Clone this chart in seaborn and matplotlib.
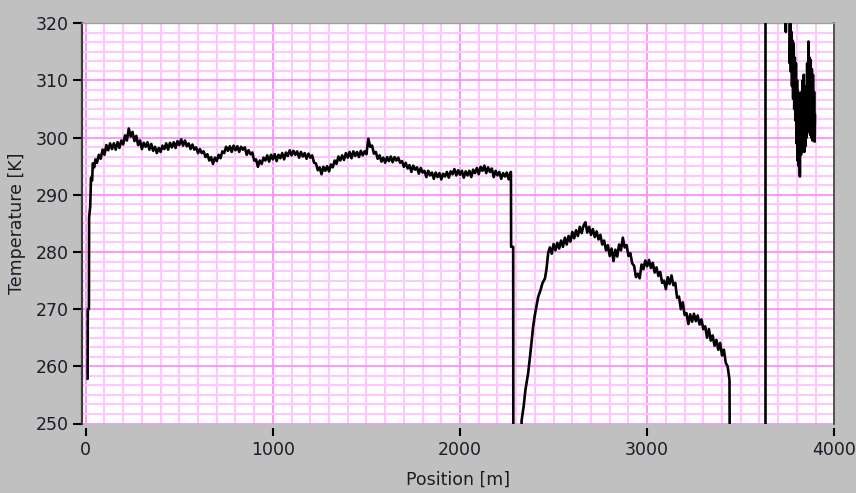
import matplotlib
matplotlib.use("Agg")
import matplotlib.pyplot as plt
from matplotlib.ticker import MultipleLocator
import pandas as pd
import seaborn as sns

# ---------------- data ----------------
seg1_pos = [10, 11, 17, 18, 24, 28, 34, 38, 45, 52] + list(range(60, 2271, 10)) + [2272, 2273, 2284, 2285]
seg1_temp = [257.8, 270.0, 270.0, 286.0, 288.0, 293.0, 292.5, 295.5, 294.8, 296.2,
             295.6, 297.0, 296.3, 297.9, 297.0, 298.7, 297.8, 299.0, 298.0, 299.0,
             297.9, 299.2, 298.2, 299.5, 298.8, 300.4, 299.5, 301.6, 300.2, 301.0,
             299.4, 300.3, 298.7, 299.5, 298.0, 299.1, 298.4, 299.2, 297.9, 298.9,
             297.7, 298.4, 297.3, 298.2, 297.5, 298.6, 298.0, 299.0, 297.9, 299.1,
             298.3, 299.2, 298.2, 299.4, 298.7, 299.7, 298.6, 299.5, 298.5, 299.0,
             298.0, 298.8, 297.9, 298.3, 297.3, 298.0, 297.3, 297.6, 296.6, 297.1,
             296.0, 296.6, 295.4, 296.5, 295.9, 297.0, 296.4, 297.6, 297.3, 298.4,
             297.7, 298.5, 297.5, 298.6, 297.8, 298.5, 297.5, 298.4, 297.9, 298.3,
             297.0, 297.8, 297.1, 297.4, 296.0, 296.2, 294.9, 296.0, 295.4, 296.5,
             296.0, 296.9, 295.8, 297.0, 296.2, 297.1, 295.9, 297.0, 296.4, 297.3,
             296.2, 297.4, 296.8, 297.8, 296.9, 297.7, 297.0, 297.6, 296.5, 297.5,
             296.7, 297.3, 296.3, 297.2, 296.5, 296.9, 295.6, 295.5, 294.3, 294.8,
             293.6, 294.9, 294.2, 295.0, 294.1, 295.3, 294.8, 296.0, 295.4, 296.7,
             296.0, 296.9, 296.1, 297.3, 296.5, 297.5, 296.4, 297.6, 296.8, 297.5,
             296.6, 297.7, 296.9, 297.6, 297.1, 299.8, 298.4, 298.6, 297.2, 297.5,
             296.3, 296.9, 295.8, 296.5, 295.6, 296.6, 295.9, 296.7, 295.7, 296.6,
             296.0, 296.5, 295.6, 295.9, 294.9, 295.6, 294.6, 295.2, 294.0, 295.1,
             294.4, 294.8, 293.7, 294.7, 293.9, 294.2, 293.1, 294.2, 293.4, 293.9,
             292.8, 293.9, 293.1, 293.8, 292.7, 293.7, 293.2, 294.0, 293.0, 294.1,
             293.6, 294.5, 293.4, 294.3, 293.5, 294.2, 293.0, 294.1, 293.4, 294.2,
             293.1, 294.4, 293.8, 294.7, 293.6, 294.9, 294.2, 295.1, 293.8, 294.8,
             294.0, 294.6, 293.1, 294.2, 293.4, 294.0, 292.8, 293.8, 293.2, 293.9,
             292.7, 293.9,
             294.0, 280.9, 280.9, 240.0]

seg2_pos = [2328, 2329, 2340, 2350, 2364, 2375, 2391, 2400, 2418, 2430, 2440, 2454, 2462, 2471] \
    + list(range(2480, 3441, 10)) + [3442]
seg2_temp = [240.0, 250.5, 253.0, 256.0, 258.8, 262.0, 267.0, 269.0, 272.2, 273.3, 274.5, 275.4, 277.0, 279.8,
             280.8, 279.7, 281.4, 280.3, 281.6, 280.6, 282.0, 280.9, 282.5, 281.3,
             282.8, 281.8, 283.5, 282.4, 283.8, 282.8, 284.4, 283.3, 284.6, 285.2,
             283.4, 284.4, 283.0, 284.0, 282.6, 283.6, 282.2, 283.0, 281.3, 282.0,
             280.3, 281.2, 279.3, 280.6, 278.4, 280.4, 279.2, 281.3, 280.3, 282.5,
             280.8, 281.2, 279.3, 279.8, 278.0, 277.6, 275.6, 276.2, 275.4, 277.8,
             277.0, 278.5, 277.5, 278.6, 277.2, 278.1, 276.4, 277.3, 275.8, 276.5,
             274.6, 275.0, 273.5, 275.6, 274.4, 275.9, 274.2, 274.6, 272.0, 272.2,
             270.0, 271.2, 269.0, 269.3, 267.4, 269.1, 267.8, 269.2, 267.9, 268.9,
             267.3, 268.2, 266.5, 267.0, 265.0, 266.5, 264.5, 265.4, 263.6, 264.6,
             262.9, 264.1, 261.9, 262.9, 260.6, 260.0, 257.6,
             240.0]

seg3_pos = [3628, 3628]
seg3_temp = [240.0, 330.0]

seg4_pos = [3740, 3741, 3742, 3760, 3762, 3765, 3768, 3771, 3774, 3777, 3780, 3783, 3786, 3789,
            3792, 3795, 3798, 3801, 3804, 3807, 3810, 3813, 3816, 3819, 3822, 3825, 3828, 3831,
            3834, 3837, 3840, 3843, 3846, 3849, 3852, 3855, 3858, 3862, 3865, 3868, 3871, 3874,
            3877, 3880, 3883, 3886, 3889, 3892, 3895, 3897]
seg4_temp = [325, 318.5, 325, 325, 313, 320, 311.5, 318.5, 309, 317, 306.8, 316.5, 305, 314,
             303, 313, 299, 310, 296, 308, 295, 307, 293.2, 306, 297, 308, 297.5, 310,
             298, 311, 297.5, 309, 298.5, 308, 300, 313, 301, 316.8, 304.8, 314, 300.5, 313.6,
             300, 312, 299.5, 311, 300, 308, 299.3, 304]

x_ticks = [0, 1000, 2000, 3000, 4000]
y_ticks = [250, 260, 270, 280, 290, 300, 310, 320]

frames = []
for i, (p, t) in enumerate([(seg1_pos, seg1_temp), (seg2_pos, seg2_temp),
                            (seg3_pos, seg3_temp), (seg4_pos, seg4_temp)]):
    frames.append(pd.DataFrame({"Position": p, "Temperature": t, "seg": i}))
df = pd.concat(frames, ignore_index=True)

# ---------------- figure ----------------
sns.set_style("ticks")
plt.rcParams["font.family"] = ["DejaVu Sans"]
text_col = "#1c1c28"

fig = plt.figure(figsize=(8.56, 4.93), dpi=100, facecolor="#c0c0c0")
left_px, right_px, top_px, bot_px = 82.0, 834.3, 23.3, 423.5
ax = fig.add_axes([left_px / 856, 1 - bot_px / 493, (right_px - left_px) / 856, (bot_px - top_px) / 493])
ax.set_facecolor("white")

sns.lineplot(data=df, x="Position", y="Temperature", units="seg", estimator=None,
             sort=False, color="black", lw=1.9, ax=ax, zorder=3)

ax.set_xlim(-20, 4000)
ax.set_ylim(250, 320)
ax.set_xticks(x_ticks)
ax.set_yticks(y_ticks)
ax.xaxis.set_minor_locator(MultipleLocator(100))
ax.yaxis.set_minor_locator(MultipleLocator(10 / 6))

ax.set_axisbelow(True)
ax.grid(which="minor", color="#ffc6ff", lw=1.5)
ax.grid(which="major", color="#ff8cff", lw=1.3)

ax.spines["left"].set_color("#3a3a3a")
ax.spines["left"].set_linewidth(1.6)
ax.spines["right"].set_color("#404040")
ax.spines["right"].set_linewidth(1.2)
ax.spines["top"].set_color("#a0a0a0")
ax.spines["top"].set_linewidth(1.0)
ax.spines["bottom"].set_visible(False)
ax.spines["bottom"].set_position(("outward", 3))

ax.tick_params(axis="y", which="major", left=True, direction="out", length=6.5,
               width=1.5, color="black", labelsize=12.5, labelcolor=text_col, pad=3.2)
ax.tick_params(axis="x", which="major", bottom=True, direction="out", length=5.8,
               width=1.5, color="black", labelsize=12.5, labelcolor=text_col, pad=4)
ax.tick_params(which="minor", length=0, width=0)

ax.set_xlabel("Position [m]", fontsize=12.5, color=text_col, labelpad=8)
ax.set_ylabel("Temperature [K]", fontsize=12.5, color=text_col, labelpad=7)

fig.savefig("out.png", dpi=100, facecolor=fig.get_facecolor())
